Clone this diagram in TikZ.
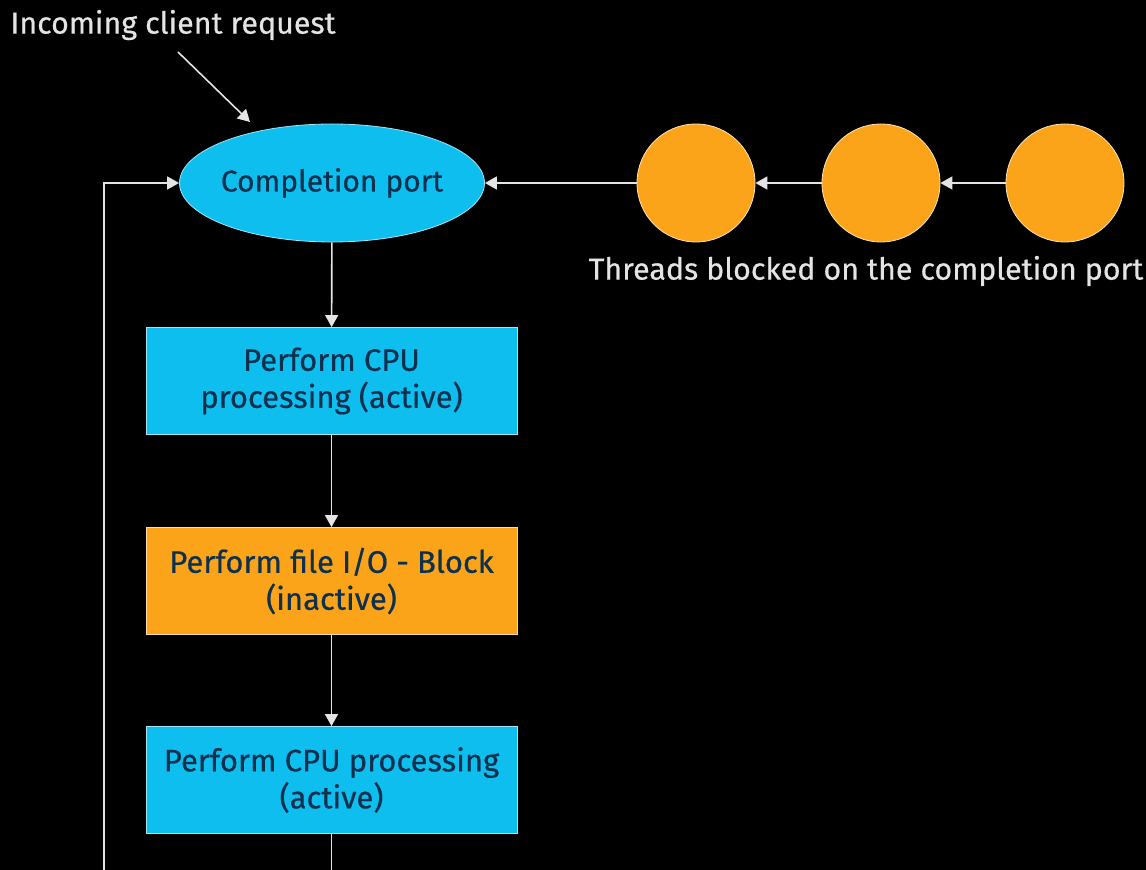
\documentclass[tikz,border=0pt]{standalone}
\usepackage{fontspec}
\setmainfont{Fira Sans}
\newfontfamily\diagfont{Fira Sans}[FakeBold=0.5]
\usepackage{xcolor}
\usetikzlibrary{arrows.meta}
\usetikzlibrary{shapes.geometric}
\usetikzlibrary{calc}

\definecolor{portblue}{RGB}{14,190,238}
\definecolor{threadorange}{RGB}{251,164,26}
\definecolor{boxtext}{RGB}{12,48,78}
\definecolor{labelgrey}{RGB}{228,228,228}

\tikzset{
  flow/.style={draw=labelgrey, line width=0.8pt, -{Triangle[width=6.5pt,length=6pt]}},
  stepbox/.style={rectangle, minimum width=185.5pt, minimum height=53.5pt, inner sep=0pt,
    align=center, text=boxtext, draw=white!60!#1, line width=0.4pt, fill=#1,
    font=\diagfont\fontsize{15.5}{18.5}\selectfont},
  thread/.style={circle, fill=threadorange, draw=white!70!threadorange, line width=0.4pt,
    minimum size=59pt, inner sep=0pt},
  caption/.style={text=labelgrey, font=\diagfont\fontsize{15.2}{18}\selectfont, inner sep=0pt},
}

\begin{document}
\begin{tikzpicture}[x=0.5pt, y=-0.5pt]
    \useasboundingbox (0, 0) rectangle (1146, 870);
    \fill[black] (0, 0) rectangle (1146, 870);
    \clip (0, 0) rectangle (1146, 870);

    % completion port and the waiting threads
    \node[ellipse, fill=portblue, draw=white!60!portblue, line width=0.4pt,
          minimum width=152.5pt, minimum height=59pt, inner sep=0pt,
          label={[text=boxtext, font=\diagfont\fontsize{15}{18}\selectfont]center:Completion port}]
          (port) at (332, 183) {};
    \node[thread] (thread1) at (696, 183) {};
    \node[thread] (thread2) at (881, 183) {};
    \node[thread] (thread3) at (1065, 183) {};
    \node[caption] (threadlabel) at (866, 271) {Threads blocked on the completion port};

    % incoming request
    \node[caption, anchor=west] (request) at (10, 25) {Incoming client request};
    \coordinate (reqtail) at (178, 52);
    \coordinate (reqhead) at (250, 122);

    % work steps
    \node[stepbox=portblue] (cpufirst) at (331.5, 381) {Perform CPU\\processing (active)};
    \node[stepbox=threadorange] (fileio) at (331.5, 581) {Perform file I/O - Block\\(inactive)};
    \node[stepbox=portblue] (cpusecond) at (331.5, 780) {Perform CPU processing\\(active)};
    \coordinate (loopleft) at (104, 872);

    \draw[flow] (reqtail) -- (reqhead);
    \draw[flow] (thread3) -- (thread2);
    \draw[flow] (thread2) -- (thread1);
    \draw[flow] (thread1) -- (port);
    \draw[flow] (port) -- (cpufirst);
    \draw[flow] (cpufirst) -- (fileio);
    \draw[flow] (fileio) -- (cpusecond);
    \draw[flow] (cpusecond.south) |- (loopleft) |- (port.west);
\end{tikzpicture}
\end{document}
